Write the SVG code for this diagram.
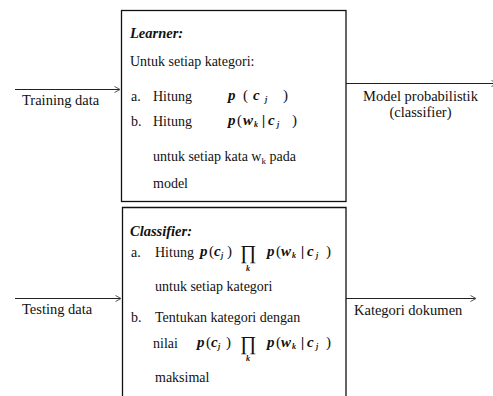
<svg xmlns="http://www.w3.org/2000/svg" width="493" height="396" viewBox="0 0 493 396">
<style>
text{font-family:"Liberation Serif","DejaVu Serif",serif;fill:#111;}
.t{font-size:14px;}
.lbl{font-size:14.5px;}
.h{font-size:14.5px;font-weight:bold;font-style:italic;}
.m{font-size:15px;font-weight:bold;font-style:italic;}
.mr{font-size:15px;}
.s{font-size:8px;font-weight:bold;font-style:italic;}
.pi{font-size:20px;}
.box{fill:none;stroke:#111;stroke-width:1.3;}
.arr{fill:none;stroke:#222;stroke-width:1;}
</style>
<defs>
<marker id="ah" markerUnits="userSpaceOnUse" markerWidth="8" markerHeight="8" refX="6" refY="3.5" orient="auto">
<path d="M0.5,0.5 L6,3.5 L0.5,6.5" fill="none" stroke="#555" stroke-width="1"/>
</marker>
</defs>
<g id="connectors">
<line class="arr" x1="15" y1="89.5" x2="120" y2="89.5" marker-end="url(#ah)"/>
<line class="arr" x1="346" y1="83.5" x2="497" y2="83.5" stroke="#555" marker-end="url(#ah)"/>
<line class="arr" x1="15" y1="298.5" x2="121" y2="298.5" marker-end="url(#ah)"/>
<line class="arr" x1="346" y1="298.5" x2="476" y2="298.5" stroke="#555" marker-end="url(#ah)"/>
<text class="lbl" x="22" y="105">Training data</text>
<text class="lbl" x="420.5" y="101" text-anchor="middle">Model probabilistik</text>
<text class="lbl" x="420.5" y="117" text-anchor="middle">(classifier)</text>
<text class="lbl" x="22" y="314">Testing data</text>
<text class="lbl" x="354" y="315">Kategori dokumen</text>
</g>
<g id="learner">
<rect class="box" x="121.5" y="10.5" width="224.5" height="191"/>
<text class="h" x="130" y="37.5">Learner:</text>
<text class="t" x="130" y="66">Untuk setiap kategori:</text>
<text class="t" x="131" y="101">a.</text>
<text class="t" x="153" y="101">Hitung</text>
<text class="m" x="228" y="100">p</text>
<text class="mr" x="243" y="100">(</text>
<text class="m" x="253" y="100">c</text>
<text class="s" x="265" y="102">j</text>
<text class="mr" x="283" y="100">)</text>
<text class="t" x="131" y="126">b.</text>
<text class="t" x="153" y="126">Hitung</text>
<text class="m" x="228" y="125">p</text>
<text class="mr" x="237" y="125">(</text>
<text class="m" x="243" y="125">w</text>
<text class="s" x="254" y="127">k</text>
<text class="m" x="262" y="125">|</text>
<text class="m" x="268" y="125">c</text>
<text class="s" x="277" y="127">j</text>
<text class="mr" x="292" y="125">)</text>
<text class="t" x="153" y="161">untuk setiap kata w<tspan font-size="9" dy="3">k</tspan><tspan dy="-3"> pada</tspan></text>
<text class="t" x="153" y="188">model</text>
</g>
<g id="classifier">
<path class="box" d="M122.5,397 V207.5 H346 V397" stroke="#333"/>
<text class="h" x="130" y="235.5">Classifier:</text>
<text class="t" x="131" y="256.5">a.</text>
<text class="t" x="155" y="256.5">Hitung</text>
<text class="m" x="200" y="256">p</text>
<text class="mr" x="209" y="256">(</text>
<text class="m" x="214" y="256">c</text>
<text class="s" x="221" y="258">j</text>
<text class="mr" x="227" y="256">)</text>
<text class="pi" x="240" y="259">∏</text>
<text class="s" x="246" y="271">k</text>
<text class="m" x="267" y="256">p</text>
<text class="mr" x="276" y="256">(</text>
<text class="m" x="281" y="256">w</text>
<text class="s" x="292" y="258">k</text>
<text class="m" x="301" y="256">|</text>
<text class="m" x="307" y="256">c</text>
<text class="s" x="316" y="258">j</text>
<text class="mr" x="326" y="256">)</text>
<text class="t" x="155" y="291">untuk setiap kategori</text>
<text class="t" x="131" y="322">b.</text>
<text class="t" x="155" y="322">Tentukan kategori dengan</text>
<text class="t" x="153" y="348" font-size="10">nilai</text>
<text class="m" x="197" y="347">p</text>
<text class="mr" x="206" y="347">(</text>
<text class="m" x="211" y="347">c</text>
<text class="s" x="218" y="349">j</text>
<text class="mr" x="226" y="347">)</text>
<text class="pi" x="240" y="350">∏</text>
<text class="s" x="246" y="361">k</text>
<text class="m" x="267" y="347">p</text>
<text class="mr" x="276" y="347">(</text>
<text class="m" x="281" y="347">w</text>
<text class="s" x="292" y="349">k</text>
<text class="m" x="301" y="347">|</text>
<text class="m" x="307" y="347">c</text>
<text class="s" x="316" y="349">j</text>
<text class="mr" x="326" y="347">)</text>
<text class="t" x="155" y="381.5">maksimal</text>
</g>
</svg>
